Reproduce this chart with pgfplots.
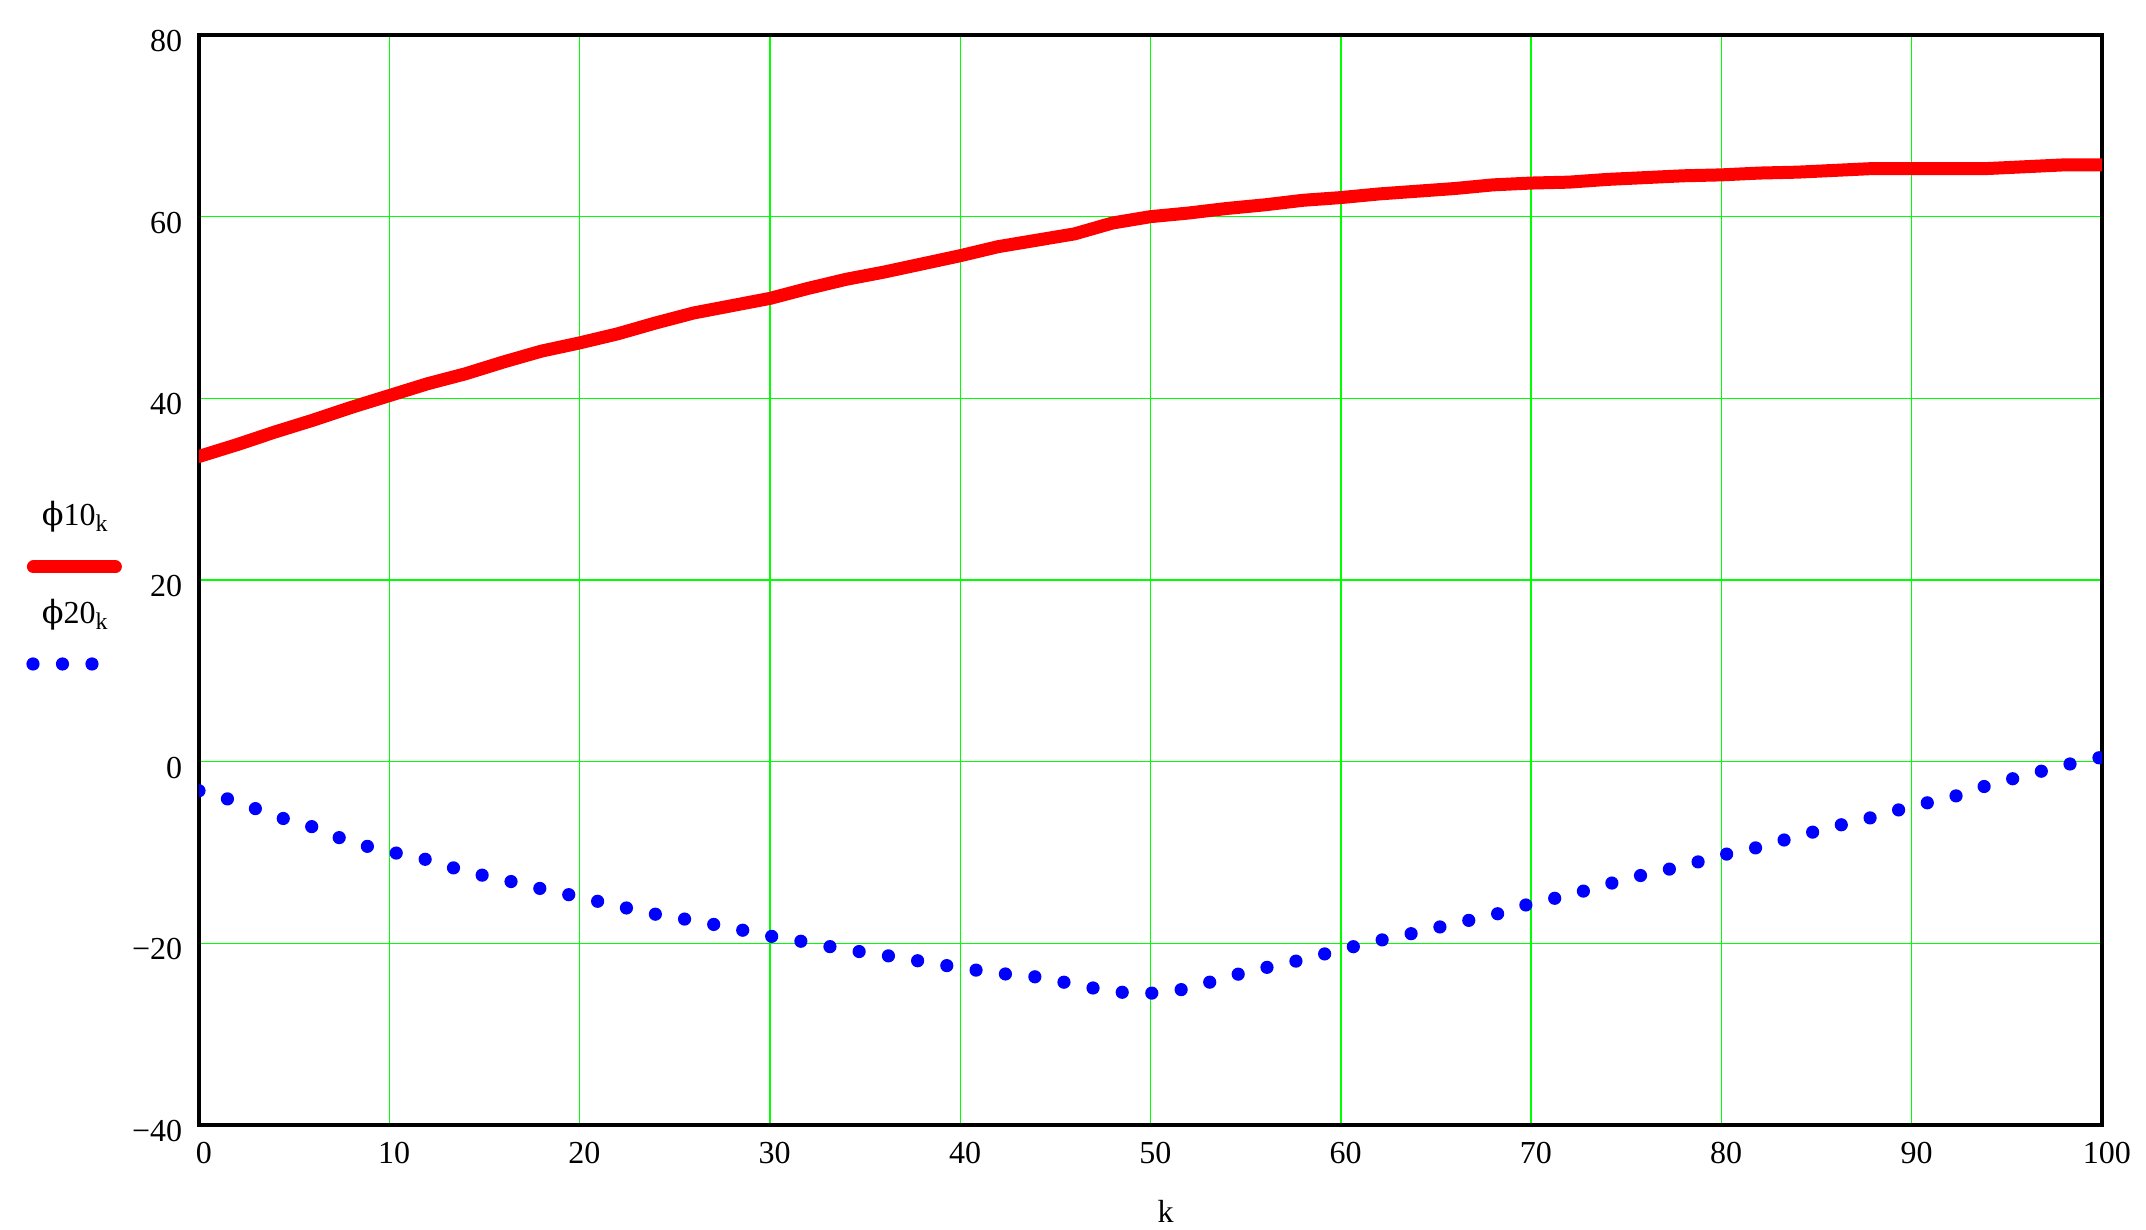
\documentclass[border=0pt]{standalone}
\usepackage{fontspec}
\setmainfont{Liberation Serif}
\newfontfamily\greekfont{DejaVu Serif}
\usepackage{pgfplots}
\pgfplotsset{compat=1.18}

\begin{document}
\begin{tikzpicture}
\useasboundingbox (-49.75pt,-26.25pt) rectangle (486.75pt,281.25pt);
\begin{axis}[
scale only axis,
width=475.75pt, height=272.5pt,
xmin=0, xmax=100,
ymin=-40, ymax=80,
xtick={0,10,...,100},
ytick={-40,-20,0,20,40,60,80},
yticklabels={−40,−20,0,20,40,60,80},
/pgf/number format/assume math mode=true,
grid=major,
major grid style={green, line width=0.35pt},
axis line style={black, line width=0.85pt},
major tick length=0pt,
tick label style={font=\fontsize{8}{9.6}\selectfont, inner sep=0pt},
xticklabel shift=4pt,
yticklabel shift=4pt,
xticklabel style={xshift=1.2pt},
yticklabel style={yshift=-1.5pt},
xlabel={k},
xlabel style={at={(axis description cs:0.508,0)}, anchor=center, yshift=-21.5pt,
  font=\fontsize{8}{9.6}\selectfont, inner sep=0pt},
]
% phi10
\addplot [red, line width=3.25pt, line cap=round, line join=round]
table {%
0 33.6
2 34.9
4 36.3
6 37.6
8 39.0
10 40.3
12 41.6
14 42.7
16 44.0
18 45.2
20 46.1
22 47.1
24 48.3
26 49.4
28 50.2
30 51.0
32 52.1
34 53.1
36 53.9
38 54.8
40 55.7
42 56.7
44 57.4
46 58.1
48 59.3
50 60.0
52 60.4
54 60.9
56 61.3
58 61.8
60 62.1
62 62.5
64 62.8
66 63.1
68 63.5
70 63.7
72 63.8
74 64.1
76 64.3
78 64.5
80 64.6
82 64.8
84 64.9
86 65.1
88 65.3
90 65.3
92 65.3
94 65.3
96 65.5
98 65.7
100 65.7
};
% phi20
\addplot [blue, line width=3.3pt, line cap=round, dash pattern=on 0pt off 7.4pt]
table {%
0 -3.2
2 -4.4
4 -6.0
6 -7.2
8 -8.9
10 -9.9
12 -10.8
14 -12.1
16 -13.0
18 -14.0
20 -14.9
22 -15.9
24 -16.8
26 -17.5
28 -18.3
30 -19.2
32 -19.9
34 -20.7
36 -21.3
38 -22.0
40 -22.7
42 -23.3
44 -23.7
46 -24.5
48 -25.35
50 -25.5
52 -25.0
54 -23.7
56 -22.7
58 -21.8
60 -20.7
62 -19.7
64 -18.8
66 -17.8
68 -16.9
70 -15.6
72 -14.7
74 -13.5
76 -12.4
78 -11.5
80 -10.3
82 -9.4
84 -8.2
86 -7.1
88 -6.1
90 -4.9
92 -4.0
94 -2.6
96 -1.5
98 -0.4
100 0.5
};
\end{axis}
% legend on the left, Mathcad style
\node [anchor=base west, inner sep=0pt, font=\fontsize{8}{9.6}\selectfont] at (-39.5pt,149.75pt) {{\greekfont ϕ}10\textsubscript{k}};
\draw [red, line width=3.25pt, line cap=round] (-41.4pt,139.5pt) -- (-20.9pt,139.5pt);
\node [anchor=base west, inner sep=0pt, font=\fontsize{8}{9.6}\selectfont] at (-39.5pt,125.4pt) {{\greekfont ϕ}20\textsubscript{k}};
\draw [blue, line width=3.3pt, line cap=round, dash pattern=on 0pt off 7.375pt] (-41.5pt,115.25pt) -- (-26.75pt,115.25pt);
\end{tikzpicture}
\end{document}
